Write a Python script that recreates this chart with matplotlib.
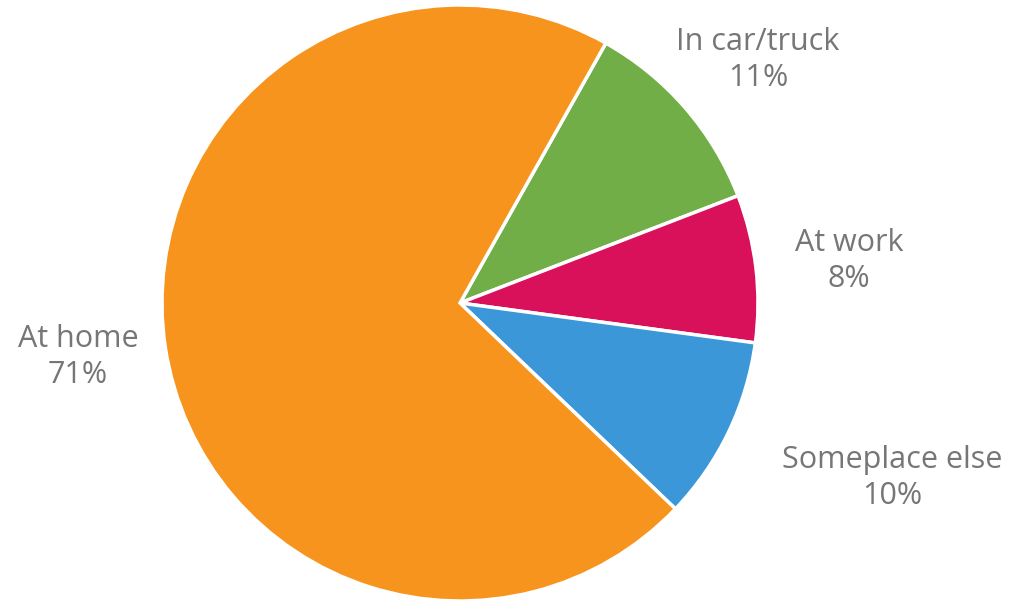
import matplotlib.pyplot as plt

labels = ["In car/truck", "At work", "Someplace else", "At home"]
values = [11, 8, 10, 71]
colors = ["#72ae48", "#d9105a", "#3b97d8", "#f7941e"]

# label centres in pixel coords (x, y from top)
label_pos = [(758, 60), (849, 261), (892, 478), (78, 357)]

W, H = 1012, 602
fig = plt.figure(figsize=(W / 100, H / 100), dpi=100)
ax = fig.add_axes([0, 0, 1, 1])
ax.set_xlim(0, W)
ax.set_ylim(0, H)
ax.set_aspect("equal")
ax.axis("off")

ax.pie(values, colors=colors, startangle=60.7, counterclock=False,
       center=(460, H - 303), radius=298,
       wedgeprops=dict(edgecolor="white", linewidth=2.5))

for lab, v, (x, y) in zip(labels, values, label_pos):
    ax.text(x, H - y, f"{lab}\n{v}%", ha="center", va="center",
            fontsize=22, color="#767676", family="Open Sans", linespacing=1.25)

ax.set_xlim(0, W)
ax.set_ylim(0, H)
fig.savefig("out.png", dpi=100)
